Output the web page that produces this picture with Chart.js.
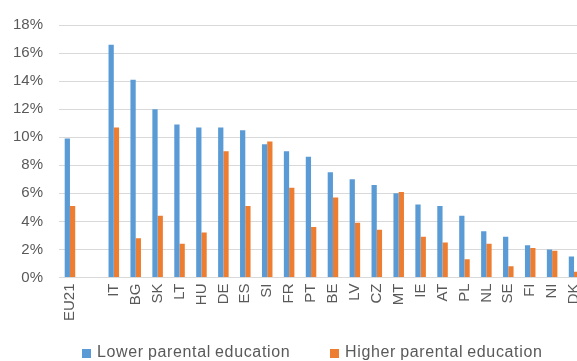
<!DOCTYPE html>
<html lang="en">
<head>
    <meta charset="UTF-8">
    <title>Parental education</title>
    <script src="https://cdn.jsdelivr.net/npm/chart.js"></script>
    <style>
        html, body {
            margin: 0;
            padding: 0;
            background-color: #ffffff;
            overflow: hidden;
        }

        .chart-box {
            position: relative;
            width: 600px;
            height: 361px;
        }

        .legend {
            position: absolute;
            left: 0;
            top: 343px;
            width: 600px;
            height: 18px;
            font-family: 'Liberation Sans', Arial, sans-serif;
            font-size: 16px;
            line-height: 18px;
            color: #595959;
            letter-spacing: 0.65px;
            word-spacing: -1px;
            white-space: nowrap;
        }

        .legend span {
            position: absolute;
            top: 0;
        }

        .legend i {
            position: absolute;
            top: 6px;
            width: 9px;
            height: 9px;
        }
    </style>
</head>
<body>
    <div class="chart-box">
        <canvas id="eduChart" width="600" height="361"></canvas>
        <div class="legend" id="legend"></div>
    </div>

    <script>
        // Share by country, the empty slot keeps EU21 apart from the countries
        const countries = ['EU21', '', 'IT', 'BG', 'SK', 'LT', 'HU', 'DE', 'ES', 'SI', 'FR', 'PT',
            'BE', 'LV', 'CZ', 'MT', 'IE', 'AT', 'PL', 'NL', 'SE', 'FI', 'NI', 'DK'];
        const lowerEdu = [9.9, null, 16.6, 14.1, 12.0, 10.9, 10.7, 10.7, 10.5, 9.5, 9.0, 8.6,
            7.5, 7.0, 6.6, 6.0, 5.2, 5.1, 4.4, 3.3, 2.9, 2.3, 2.0, 1.5];
        const higherEdu = [5.1, null, 10.7, 2.8, 4.4, 2.4, 3.2, 9.0, 5.1, 9.7, 6.4, 3.6,
            5.7, 3.9, 3.4, 6.1, 2.9, 2.5, 1.3, 2.4, 0.8, 2.1, 1.9, 0.4];
        const yTicks = [0, 2, 4, 6, 8, 10, 12, 14, 16, 18];

        const seriesNames = ['Lower parental education', 'Higher parental education'];
        const seriesColors = ['#5b9bd5', '#ed7d31'];

        const textColor = '#595959';
        const gridColor = '#d9d9d9';
        const fontFamily = "'Liberation Sans', Arial, sans-serif";

        const ctx = document.getElementById('eduChart').getContext('2d');
        new Chart(ctx, {
            type: 'bar',
            data: {
                labels: countries,
                datasets: [
                    {
                        label: seriesNames[0],
                        data: lowerEdu,
                        backgroundColor: seriesColors[0],
                        categoryPercentage: 0.48,
                        barPercentage: 1.0,
                    },
                    {
                        label: seriesNames[1],
                        data: higherEdu,
                        backgroundColor: seriesColors[1],
                        categoryPercentage: 0.48,
                        barPercentage: 1.0,
                    },
                ],
            },
            options: {
                responsive: false,
                animation: false,
                layout: {
                    padding: { top: 18, right: 15, bottom: 34, left: 14 },
                },
                scales: {
                    x: {
                        grid: { display: false, drawTicks: false },
                        border: { color: gridColor, width: 1 },
                        ticks: {
                            color: textColor,
                            font: { family: fontFamily, size: 15 },
                            minRotation: 90,
                            maxRotation: 90,
                            autoSkip: false,
                            padding: 6,
                        },
                    },
                    y: {
                        min: 0,
                        max: 18,
                        afterBuildTicks: (axis) => {
                            axis.ticks = yTicks.map((v) => ({ value: v }));
                        },
                        // fixed width so the plot starts right after the % labels
                        afterFit: (axis) => {
                            axis.width = 45;
                        },
                        grid: { color: gridColor, drawTicks: false },
                        border: { display: false },
                        ticks: {
                            color: textColor,
                            font: { family: fontFamily, size: 15 },
                            padding: 16,
                            callback: (v) => v + '%',
                        },
                    },
                },
                plugins: {
                    legend: { display: false },
                    tooltip: { enabled: false },
                },
            },
        });

        // Legend under the plot, one square and name per series
        const legend = document.getElementById('legend');
        const legendX = [82, 330];
        legend.innerHTML = seriesNames
            .map((name, i) => `
                <i style="left:${legendX[i]}px;background:${seriesColors[i]}"></i>
                <span style="left:${legendX[i] + 15}px">${name}</span>`)
            .join('');
    </script>
</body>
</html>
